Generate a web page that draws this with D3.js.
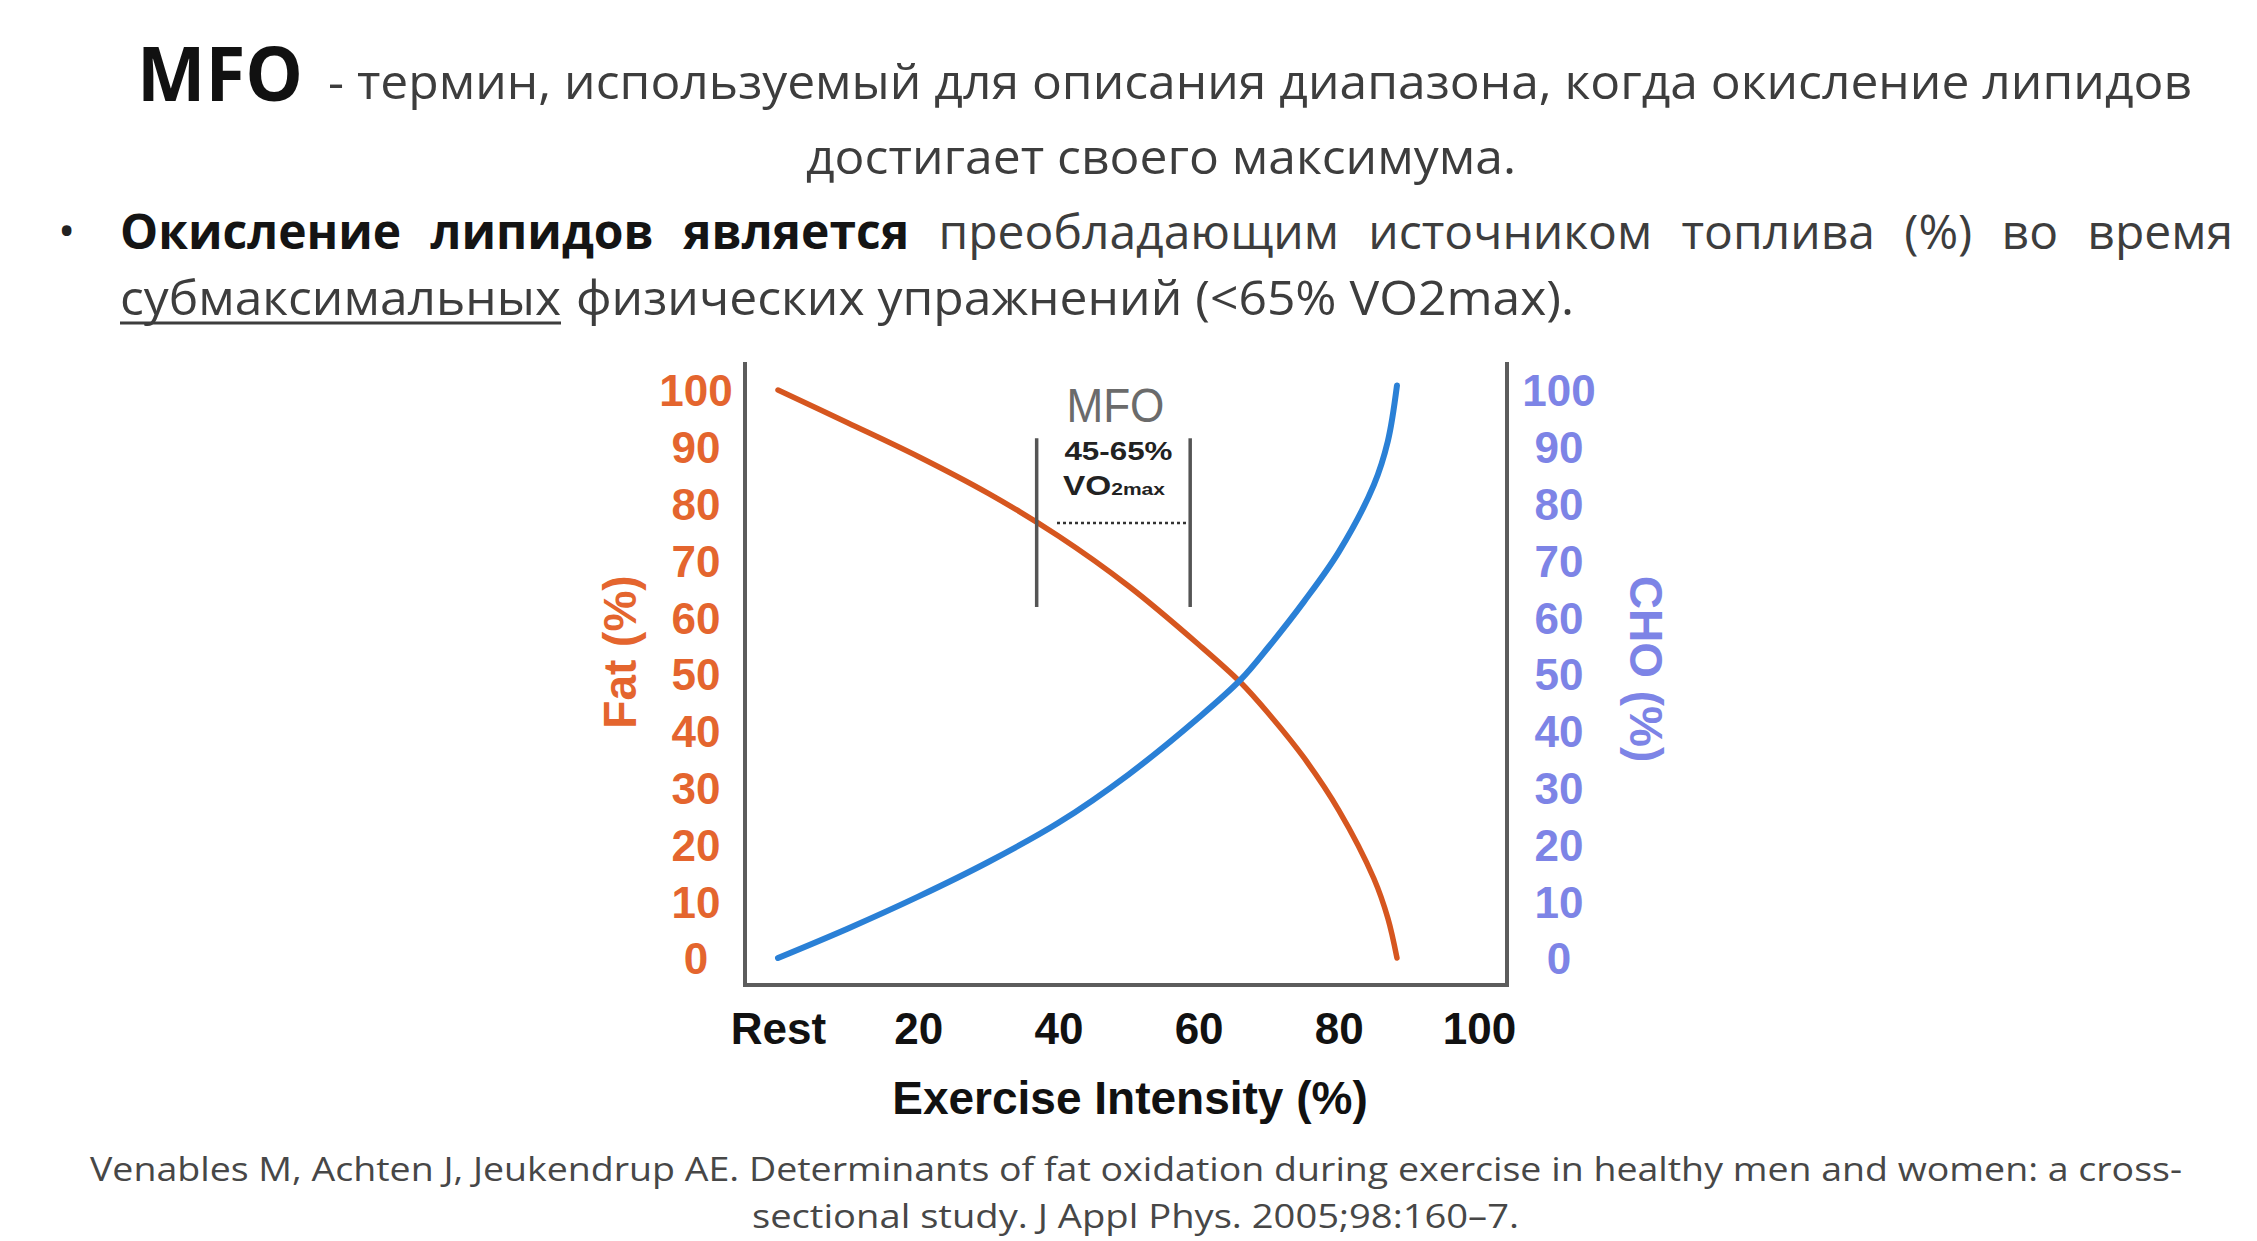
<!DOCTYPE html>
<html>
<head>
<meta charset="utf-8">
<script src="https://cdn.jsdelivr.net/npm/d3@7"></script>
<style>
  body { margin: 0; background: #fff; }
</style>
</head>
<body>
<svg id="chart"></svg>
<script>
// exercise intensity (% VO2max) at which the two curves were read
const intensity = [0, 10, 20, 30, 40, 50, 60, 66, 70, 75, 80, 85, 87, 88.3];
const fatPct    = [100, 94.2, 88.3, 81.8, 74.3, 65.5, 55.2, 48.5, 43, 35.3, 26, 14, 7, 0];
const choPct    = [0, 5.2, 10.8, 16.9, 23.8, 32.3, 42.3, 49, 54.8, 62.7, 71.5, 83.3, 91, 100.8];

const xTicks = [0, 20, 40, 60, 80, 100];
const xTickLabels = ["Rest", "20", "40", "60", "80", "100"];
const yTicks = [0, 10, 20, 30, 40, 50, 60, 70, 80, 90, 100];

// MFO bracket: x positions of the two bars, vertical extent, dotted line
const mfoRange = [36.9, 58.8];
const mfoSpan = [61.8, 91.5];
const mfoDots = [39.8, 58.2, 76.6];

const W = 2257, H = 1241;
const sans = "'Open Sans', 'Noto Sans', sans-serif";
const helv = "'Liberation Sans', Arial, sans-serif";

const svg = d3.select("#chart").attr("width", W).attr("height", H);
svg.append("rect").attr("width", W).attr("height", H).attr("fill", "#fff");

// ---------- heading text ----------
const head = svg.append("g").attr("font-family", sans);

head.append("text")
    .attr("x", 137).attr("y", 101)
    .attr("font-size", 76).attr("font-weight", 700).attr("fill", "#111")
    .attr("textLength", 166).attr("lengthAdjust", "spacingAndGlyphs")
    .text("MFO");

head.append("text")
    .attr("x", 328).attr("y", 99)
    .attr("font-size", 47).attr("fill", "#3d3d3d")
    .attr("textLength", 1864).attr("lengthAdjust", "spacingAndGlyphs")
    .text("- термин, используемый для описания диапазона, когда окисление липидов");

head.append("text")
    .attr("x", 806).attr("y", 174)
    .attr("font-size", 47).attr("fill", "#3d3d3d")
    .attr("textLength", 710).attr("lengthAdjust", "spacingAndGlyphs")
    .text("достигает своего максимума.");

// bullet
head.append("text")
    .attr("x", 58).attr("y", 247)
    .attr("font-size", 46).attr("fill", "#222")
    .text("•");

// justified bullet line, word by word
const line3 = [
    ["Окисление", true], ["липидов", true], ["является", true],
    ["преобладающим", false], ["источником", false], ["топлива", false],
    ["(%)", false], ["во", false], ["время", false]
];
const l3x0 = 120, l3x1 = 2233, l3y = 249, l3size = 48;
const words = line3.map(([t, b]) => head.append("text")
    .attr("y", l3y)
    .attr("font-size", l3size)
    .attr("font-weight", b ? 700 : 400)
    .attr("fill", b ? "#141414" : "#3d3d3d")
    .text(t));
const widths = words.map(w => w.node().getComputedTextLength());
const gap = (l3x1 - l3x0 - d3.sum(widths)) / (words.length - 1);
let cx = l3x0;
words.forEach((w, i) => { w.attr("x", cx); cx += widths[i] + gap; });

head.append("text")
    .attr("x", 120).attr("y", 315)
    .attr("font-size", 47).attr("fill", "#3d3d3d")
    .attr("textLength", 441).attr("lengthAdjust", "spacingAndGlyphs")
    .text("субмаксимальных");
head.append("line")
    .attr("x1", 120).attr("x2", 561).attr("y1", 323).attr("y2", 323)
    .attr("stroke", "#3d3d3d").attr("stroke-width", 3);
head.append("text")
    .attr("x", 576).attr("y", 315)
    .attr("font-size", 47).attr("fill", "#3d3d3d")
    .attr("textLength", 998).attr("lengthAdjust", "spacingAndGlyphs")
    .text("физических упражнений (<65% VO2max).");

// ---------- chart ----------
const x = d3.scaleLinear().domain([0, 100]).range([778, 1479]);
const yFat = d3.scaleLinear().domain([0, 100]).range([958, 390]);
const yCho = d3.scaleLinear().domain([0, 100]).range([958, 390]);

const frame = { left: 745, right: 1507, top: 362, bottom: 985 };
const fatColor = "#d6561f", fatText = "#e4652e";
const choColor = "#2a80d6", choText = "#7d84e6";

svg.append("path")
    .attr("d", `M${frame.left},${frame.top}V${frame.bottom}H${frame.right}V${frame.top}`)
    .attr("fill", "none").attr("stroke", "#5c5c5c").attr("stroke-width", 4);

// x axis
svg.append("g")
    .attr("transform", `translate(0,${frame.bottom})`)
    .call(d3.axisBottom(x).tickValues(xTicks).tickFormat((d, i) => xTickLabels[i]).tickSize(0))
    .call(g => g.select(".domain").remove())
    .attr("font-family", helv).attr("font-size", 44).attr("font-weight", "bold")
    .selectAll("text").attr("y", 59).attr("dy", 0).attr("fill", "#111");

// left axis (Fat)
svg.append("g")
    .attr("transform", `translate(${frame.left},0)`)
    .call(d3.axisLeft(yFat).tickValues(yTicks).tickSize(0))
    .call(g => g.select(".domain").remove())
    .attr("font-family", helv).attr("font-size", 44).attr("font-weight", "bold")
    .selectAll("text")
    .attr("x", -49).attr("dy", "0.36em").attr("text-anchor", "middle").attr("fill", fatText);

// right axis (CHO)
svg.append("g")
    .attr("transform", `translate(${frame.right},0)`)
    .call(d3.axisRight(yCho).tickValues(yTicks).tickSize(0))
    .call(g => g.select(".domain").remove())
    .attr("font-family", helv).attr("font-size", 44).attr("font-weight", "bold")
    .selectAll("text")
    .attr("x", 52).attr("dy", "0.36em").attr("text-anchor", "middle").attr("fill", choText);

// axis titles
svg.append("text")
    .attr("transform", "translate(619,652) rotate(-90)")
    .attr("text-anchor", "middle").attr("dy", "0.36em")
    .attr("font-family", helv).attr("font-size", 46).attr("font-weight", "bold")
    .attr("fill", fatText).text("Fat (%)");

svg.append("text")
    .attr("transform", "translate(1647,669) rotate(90)")
    .attr("text-anchor", "middle").attr("dy", "0.36em")
    .attr("font-family", helv).attr("font-size", 46).attr("font-weight", "bold")
    .attr("fill", choText).text("CHO (%)");

svg.append("text")
    .attr("x", 1130).attr("y", 1114)
    .attr("text-anchor", "middle")
    .attr("font-family", helv).attr("font-size", 46).attr("font-weight", "bold")
    .attr("fill", "#111").text("Exercise Intensity (%)");

// curves
const fatLine = d3.line()
    .x((d, i) => x(intensity[i]))
    .y(d => yFat(d))
    .curve(d3.curveCatmullRom.alpha(0.5));
const choLine = d3.line()
    .x((d, i) => x(intensity[i]))
    .y(d => yCho(d))
    .curve(d3.curveCatmullRom.alpha(0.5));

svg.append("path").datum(fatPct)
    .attr("d", fatLine)
    .attr("fill", "none").attr("stroke", fatColor)
    .attr("stroke-width", 5.5).attr("stroke-linecap", "round");

svg.append("path").datum(choPct)
    .attr("d", choLine)
    .attr("fill", "none").attr("stroke", choColor)
    .attr("stroke-width", 6).attr("stroke-linecap", "round");

// MFO bracket
const mfo = svg.append("g");
mfo.selectAll("line.bar")
    .data(mfoRange)
    .enter().append("line")
    .attr("class", "bar")
    .attr("x1", d => x(d)).attr("x2", d => x(d))
    .attr("y1", yFat(mfoSpan[1])).attr("y2", yFat(mfoSpan[0]))
    .attr("stroke", "#555").attr("stroke-width", 3.5);

mfo.append("line")
    .attr("x1", x(mfoDots[0])).attr("x2", x(mfoDots[1]))
    .attr("y1", yFat(mfoDots[2])).attr("y2", yFat(mfoDots[2]))
    .attr("stroke", "#333").attr("stroke-width", 2.5).attr("stroke-dasharray", "3,3");

const mid = x(d3.mean(mfoRange));
mfo.append("text")
    .attr("x", mid + 2).attr("y", 422)
    .attr("text-anchor", "middle")
    .attr("font-family", helv).attr("font-size", 48).attr("fill", "#6b6b6b")
    .attr("textLength", 98).attr("lengthAdjust", "spacingAndGlyphs")
    .text("MFO");

mfo.append("text")
    .attr("x", mid + 5).attr("y", 460)
    .attr("text-anchor", "middle")
    .attr("font-family", helv).attr("font-size", 26).attr("font-weight", "bold").attr("fill", "#222")
    .attr("textLength", 108).attr("lengthAdjust", "spacingAndGlyphs")
    .text("45-65%");

const vo = mfo.append("text")
    .attr("x", 1063).attr("y", 495)
    .attr("font-family", helv).attr("font-weight", "bold").attr("fill", "#222")
    .attr("textLength", 102).attr("lengthAdjust", "spacingAndGlyphs");
vo.append("tspan").attr("font-size", 27).text("VO");
vo.append("tspan").attr("font-size", 17).text("2max");

// ---------- citation ----------
const cite = svg.append("g").attr("font-family", sans).attr("font-size", 33).attr("fill", "#474747");
cite.append("text")
    .attr("x", 90).attr("y", 1181)
    .attr("textLength", 2092).attr("lengthAdjust", "spacingAndGlyphs")
    .text("Venables M, Achten J, Jeukendrup AE. Determinants of fat oxidation during exercise in healthy men and women: a cross-");
cite.append("text")
    .attr("x", 752).attr("y", 1228)
    .attr("textLength", 767).attr("lengthAdjust", "spacingAndGlyphs")
    .text("sectional study. J Appl Phys. 2005;98:160–7.");
</script>
</body>
</html>
